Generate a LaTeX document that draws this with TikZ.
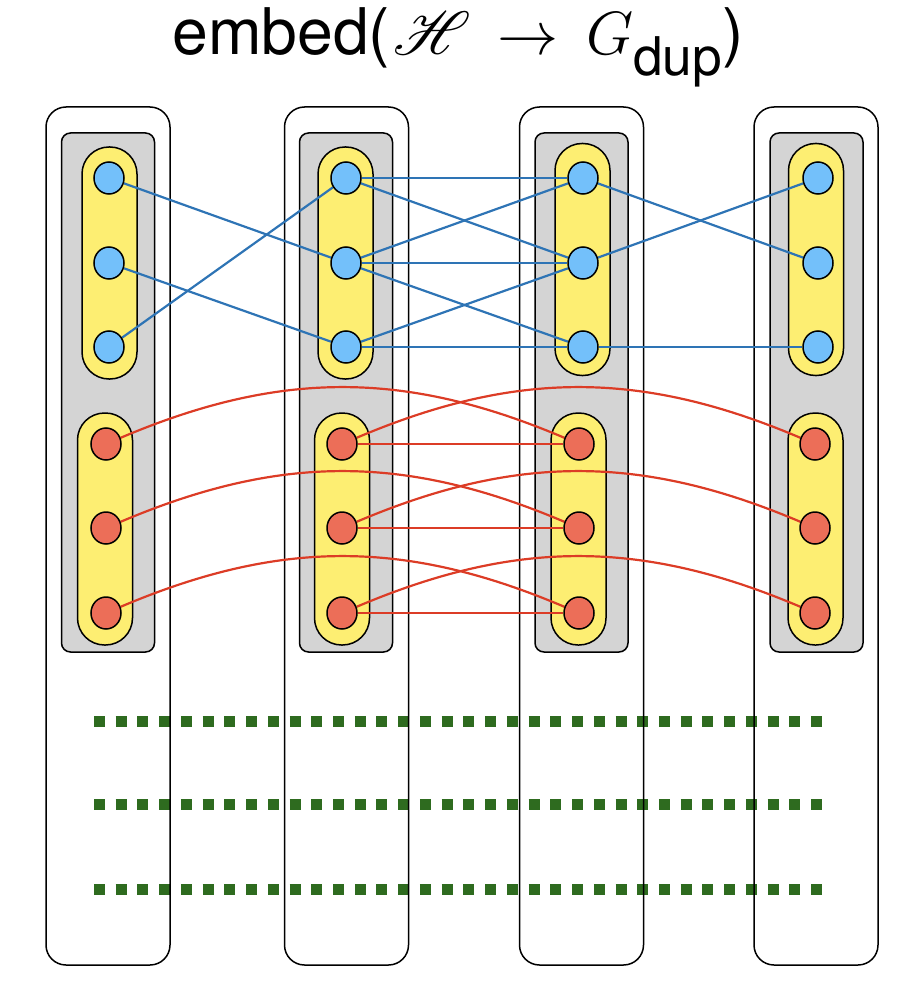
\documentclass[tikz,border=0pt]{standalone}
\usepackage{mathrsfs}
\usepackage{fontspec}
\setmainfont{TeX Gyre Heros}
\usetikzlibrary{shapes.geometric}
\definecolor{bluefill}{HTML}{73C0FA}
\definecolor{redfill}{HTML}{EC6E58}
\definecolor{pillyellow}{HTML}{FDEE72}
\definecolor{boxgray}{HTML}{D4D4D4}
\definecolor{blueline}{HTML}{2E74B5}
\definecolor{redline}{HTML}{DC3C26}
\definecolor{dotgreen}{HTML}{2E6B1F}
\pgfdeclarelayer{dots}
\pgfdeclarelayer{bg}
\pgfdeclarelayer{mid}
\pgfsetlayers{dots,bg,mid,main}
\begin{document}
\begin{tikzpicture}[x=1pt,y=-1pt,
  outerbox/.style={draw=black,line width=1.5pt,rounded corners=20pt,minimum width=124pt,minimum height=858pt,inner sep=0pt},
  graybox/.style={draw=black,line width=1.5pt,fill=boxgray,rounded corners=9pt,minimum width=93pt,minimum height=519pt,inner sep=0pt},
  pillbox/.style={draw=black,line width=1.5pt,fill=pillyellow,rounded corners=27pt,minimum width=55pt,minimum height=232pt,inner sep=0pt},
  bnode/.style={ellipse,draw=black,line width=1.5pt,fill=bluefill,minimum width=30pt,minimum height=32pt,inner sep=0pt},
  rnode/.style={ellipse,draw=black,line width=1.5pt,fill=redfill,minimum width=30pt,minimum height=32pt,inner sep=0pt},
  bedge/.style={draw=blueline,line width=2.2pt},
  redge/.style={draw=redline,line width=2.2pt},
  dotline/.style={draw=dotgreen,line width=11pt,dash pattern=on 11pt off 10.73pt}
]
\useasboundingbox (0,0) rectangle (912,984);

\node[anchor=base,scale=3.1,inner sep=0pt] (title) at (458,55)
  {\huge embed(\kern1pt\scalebox{0.95}{$\mathscr{H}\,\to\,G$}\raisebox{-6.5pt}{\fontsize{17.2}{18}\selectfont dup})};

\foreach \c/\ox/\gx/\tx/\ty/\bx/\nb/\nr in {
  1/108/108/109.5/263/105/109/106,
  2/346.5/346/345.5/263/342/346/342,
  3/581.5/581.5/582.5/259.5/578.5/583/579,
  4/816/816.5/816/259.5/815.5/818/815}{
  \begin{pgfonlayer}{bg}
    \node[outerbox] (o\c) at (\ox,536) {};
    \node[graybox] (g\c) at (\gx,392.5) {};
    \node[pillbox] (t\c) at (\tx,\ty) {};
    \node[pillbox] (p\c) at (\bx,529) {};
  \end{pgfonlayer}
  \node[bnode] (b\c1) at (\nb,178) {};
  \node[bnode] (b\c2) at (\nb,263) {};
  \node[bnode] (b\c3) at (\nb,347) {};
  \node[rnode] (r\c1) at (\nr,444) {};
  \node[rnode] (r\c2) at (\nr,528) {};
  \node[rnode] (r\c3) at (\nr,613) {};
}

\begin{pgfonlayer}{mid}
  \draw[bedge] (b11) -- (b22);
  \draw[bedge] (b12) -- (b23);
  \draw[bedge] (b13) -- (b21);
  \draw[bedge] (b21) -- (b31);
  \draw[bedge] (b21) -- (b32);
  \draw[bedge] (b22) -- (b31);
  \draw[bedge] (b22) -- (b32);
  \draw[bedge] (b22) -- (b33);
  \draw[bedge] (b23) -- (b32);
  \draw[bedge] (b23) -- (b33);
  \draw[bedge] (b31) -- (b42);
  \draw[bedge] (b32) -- (b41);
  \draw[bedge] (b33) -- (b43);
  \foreach \i in {1,2,3}{
    \draw[redge] (r2\i) -- (r3\i);
    \draw[redge] (r1\i) to[bend left=23] (r3\i);
    \draw[redge] (r2\i) to[bend left=23] (r4\i);
  }
\end{pgfonlayer}

\coordinate (d1a) at (94,721);
\coordinate (d1b) at (822,721);
\coordinate (d2a) at (94,804);
\coordinate (d2b) at (822,804);
\coordinate (d3a) at (94,889.5);
\coordinate (d3b) at (822,889.5);
\begin{pgfonlayer}{dots}
  \draw[dotline] (d1a) -- (d1b);
  \draw[dotline] (d2a) -- (d2b);
  \draw[dotline] (d3a) -- (d3b);
\end{pgfonlayer}
\end{tikzpicture}
\end{document}
